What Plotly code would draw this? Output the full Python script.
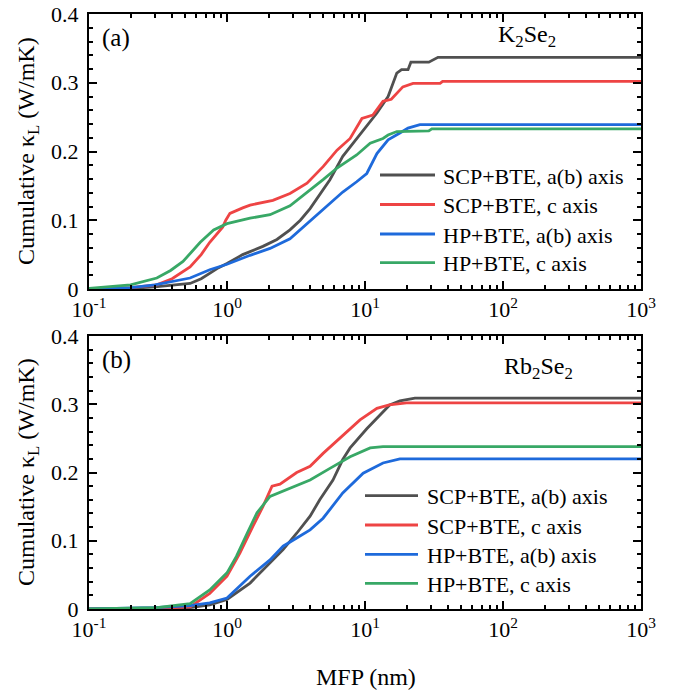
import plotly.graph_objects as go

# ---------------- data (MFP in nm, cumulative kappa_L in W/mK) ----------------
# Panel (a): K2Se2
k_scp_ab_x = [0.1, 0.2, 0.3, 0.4, 0.54, 0.65, 0.75, 0.87, 1.0, 1.3, 1.82, 2.3, 2.86, 3.4, 4.0, 4.7,
              5.57, 6.9, 8.3, 9.7, 12.2, 14.7, 17.0, 18.4, 20.5, 21.5, 29.0, 33.8, 1000]
k_scp_ab_y = [0.0, 0.001, 0.003, 0.005, 0.008, 0.015, 0.023, 0.031, 0.037, 0.050, 0.062, 0.072, 0.086,
              0.100, 0.117, 0.137, 0.159, 0.193, 0.213, 0.231, 0.256, 0.280, 0.314, 0.319, 0.319, 0.330,
              0.330, 0.337, 0.337]

k_scp_c_x = [0.1, 0.2, 0.31, 0.4, 0.54, 0.65, 0.75, 0.93, 0.98, 1.05, 1.3, 1.47, 2.15, 2.86, 3.8, 4.97,
             6.27, 7.8, 9.5, 11.4, 13.5, 15.5, 18.8, 22.3, 35.0, 36.5, 1000]
k_scp_c_y = [0.0, 0.002, 0.006, 0.015, 0.032, 0.050, 0.068, 0.090, 0.100, 0.110, 0.118, 0.122, 0.129,
             0.139, 0.154, 0.178, 0.202, 0.219, 0.248, 0.253, 0.273, 0.276, 0.294, 0.299, 0.299, 0.302,
             0.302]

k_hp_ab_x = [0.1, 0.2, 0.3, 0.54, 0.75, 1.0, 1.47, 2.05, 2.86, 3.8, 4.97, 6.9, 8.7, 10.3, 12.2, 14.7,
             17.9, 20.5, 25.0, 1000]
k_hp_ab_y = [0.0, 0.002, 0.006, 0.016, 0.028, 0.036, 0.049, 0.059, 0.073, 0.095, 0.117, 0.141, 0.156,
             0.168, 0.197, 0.217, 0.227, 0.234, 0.239, 0.239]

k_hp_c_x = [0.1, 0.2, 0.31, 0.39, 0.48, 0.64, 0.8, 1.0, 1.47, 2.05, 2.86, 3.8, 4.97, 6.27, 8.7, 10.9,
            13.5, 14.7, 17.0, 29.0, 30.5, 1000]
k_hp_c_y = [0.001, 0.006, 0.016, 0.027, 0.040, 0.068, 0.086, 0.095, 0.103, 0.108, 0.121, 0.140, 0.159,
            0.176, 0.195, 0.212, 0.219, 0.224, 0.229, 0.230, 0.233, 0.233]

# Panel (b): Rb2Se2
r_scp_ab_x = [0.1, 0.3, 0.54, 0.75, 1.0, 1.47, 2.05, 2.55, 3.2, 4.0, 4.7, 5.86, 6.9, 7.8, 10.3, 12.8,
              15.1, 17.9, 23.0, 1000]
r_scp_ab_y = [0.0, 0.001, 0.002, 0.006, 0.014, 0.038, 0.067, 0.087, 0.111, 0.136, 0.160, 0.189, 0.219,
              0.236, 0.264, 0.284, 0.299, 0.305, 0.309, 0.309]

r_scp_c_x = [0.1, 0.3, 0.54, 0.75, 1.0, 1.24, 1.54, 1.82, 2.12, 2.42, 3.2, 4.0, 4.97, 6.6, 9.2, 12.2,
             15.0, 20.0, 1000]
r_scp_c_y = [0.0, 0.001, 0.003, 0.023, 0.048, 0.082, 0.121, 0.150, 0.180, 0.183, 0.200, 0.209, 0.228,
             0.250, 0.277, 0.294, 0.299, 0.302, 0.302]

r_hp_ab_x = [0.1, 0.3, 0.54, 0.75, 1.0, 1.47, 2.05, 2.55, 3.2, 4.0, 4.97, 6.9, 9.7, 13.5, 17.9, 1000]
r_hp_ab_y = [0.0, 0.002, 0.005, 0.009, 0.016, 0.048, 0.072, 0.092, 0.104, 0.116, 0.133, 0.170, 0.199,
             0.214, 0.220, 0.220]

r_hp_c_x = [0.1, 0.2, 0.31, 0.54, 0.75, 1.0, 1.17, 1.4, 1.65, 2.05, 2.86, 4.0, 5.57, 7.8, 10.9, 13.5, 1000]
r_hp_c_y = [0.0, 0.001, 0.002, 0.008, 0.028, 0.053, 0.077, 0.111, 0.141, 0.165, 0.177, 0.189, 0.206,
            0.223, 0.236, 0.238, 0.238]

names = ["SCP+BTE, a(b) axis", "SCP+BTE, c axis", "HP+BTE, a(b) axis", "HP+BTE, c axis"]
colors = ["#505050", "#EE4444", "#1E6ADB", "#38A866"]

x_tickvals = [0.1, 1, 10, 100, 1000]
x_ticktext = ["10<sup>-1</sup>", "10<sup>0</sup>", "10<sup>1</sup>", "10<sup>2</sup>", "10<sup>3</sup>"]
y_tickvals = [0, 0.1, 0.2, 0.3, 0.4]
y_ticktext = ["0", "0.1", "0.2", "0.3", "0.4"]
x_minor = [m * 10 ** e for e in range(-1, 3) for m in range(2, 10)]

FONT = "Times New Roman, Liberation Serif, DejaVu Serif, serif"
LW = 2.8

fig = go.Figure()
top_sets = [(k_scp_ab_x, k_scp_ab_y), (k_scp_c_x, k_scp_c_y), (k_hp_ab_x, k_hp_ab_y), (k_hp_c_x, k_hp_c_y)]
bot_sets = [(r_scp_ab_x, r_scp_ab_y), (r_scp_c_x, r_scp_c_y), (r_hp_ab_x, r_hp_ab_y), (r_hp_c_x, r_hp_c_y)]

for i, (xs, ys) in enumerate(top_sets):
    fig.add_trace(go.Scatter(x=xs, y=ys, mode="lines", name=names[i], showlegend=False,
                             line=dict(color=colors[i], width=LW), xaxis="x", yaxis="y"))
for i, (xs, ys) in enumerate(bot_sets):
    fig.add_trace(go.Scatter(x=xs, y=ys, mode="lines", name=names[i], showlegend=False,
                             line=dict(color=colors[i], width=LW), xaxis="x2", yaxis="y2"))

def xaxis(anchor):
    return dict(type="log", range=[-1, 3], tickvals=x_tickvals, ticktext=x_ticktext,
                ticks="inside", ticklen=8, tickwidth=1.5, tickcolor="black",
                showline=True, linecolor="black", linewidth=2, mirror="allticks",
                minor=dict(tickvals=x_minor, ticks="inside", ticklen=4, tickwidth=1.5, tickcolor="black"),
                showgrid=False, zeroline=False, anchor=anchor, automargin=False,
                tickfont=dict(family=FONT, size=22, color="black"))

def yaxis(domain, anchor):
    return dict(range=[0, 0.4], domain=domain, tickvals=y_tickvals, ticktext=y_ticktext,
                ticks="inside", ticklen=8, tickwidth=1.5, tickcolor="black",
                showline=True, linecolor="black", linewidth=2, mirror="allticks",
                minor=dict(dtick=0.02, ticks="inside", ticklen=4, tickwidth=1.5, tickcolor="black"),
                showgrid=False, zeroline=False, anchor=anchor, automargin=False,
                ticklabelstandoff=4,
                tickfont=dict(family=FONT, size=22, color="black"))

def py(p):
    return (609 - p) / 595

def px(p):
    return (p - 89) / 552

shapes = []
annotations = []

# manual legends (line sample + label) for each panel
leg_top_rows = [175, 204.5, 234, 262.7]
leg_bot_rows = [495.7, 525, 554.3, 583.3]
for rows, x0, x1, xt in [(leg_top_rows, 380, 435, 441), (leg_bot_rows, 365, 418, 425)]:
    for i, yr in enumerate(rows):
        shapes.append(dict(type="line", xref="paper", yref="paper", x0=px(x0), x1=px(x1),
                           y0=py(yr), y1=py(yr), line=dict(color=colors[i], width=LW)))
        annotations.append(dict(text=names[i], x=px(xt), y=py(yr + 1), xref="paper", yref="paper",
                                xanchor="left", yanchor="middle", showarrow=False,
                                font=dict(family=FONT, size=22, color="black")))

ytitle = "Cumulative κ<sub>L</sub> (W/mK)"
annotations += [
    dict(text="(a)", x=px(100), y=py(38), xref="paper", yref="paper", xanchor="left",
         yanchor="middle", showarrow=False, font=dict(family=FONT, size=25, color="black")),
    dict(text="(b)", x=px(100), y=py(360), xref="paper", yref="paper", xanchor="left",
         yanchor="middle", showarrow=False, font=dict(family=FONT, size=25, color="black")),
    dict(text="K<sub>2</sub>Se<sub>2</sub>", x=px(527), y=py(36), xref="paper", yref="paper",
         xanchor="center", yanchor="middle", showarrow=False,
         font=dict(family=FONT, size=24, color="black")),
    dict(text="Rb<sub>2</sub>Se<sub>2</sub>", x=px(538), y=py(368), xref="paper", yref="paper",
         xanchor="center", yanchor="middle", showarrow=False,
         font=dict(family=FONT, size=24, color="black")),
    dict(text=ytitle, x=px(28), y=py(151), xref="paper", yref="paper", textangle=-90,
         xanchor="center", yanchor="middle", showarrow=False,
         font=dict(family=FONT, size=24, color="black")),
    dict(text=ytitle, x=px(28), y=py(472), xref="paper", yref="paper", textangle=-90,
         xanchor="center", yanchor="middle", showarrow=False,
         font=dict(family=FONT, size=24, color="black")),
    dict(text="MFP (nm)", x=px(366), y=py(677), xref="paper", yref="paper",
         xanchor="center", yanchor="middle", showarrow=False,
         font=dict(family=FONT, size=24, color="black")),
]

fig.update_layout(
    width=674, height=690,
    margin=dict(l=89, r=33, t=14, b=81),
    paper_bgcolor="white", plot_bgcolor="white",
    font=dict(family=FONT, color="black"),
    showlegend=False,
    xaxis=xaxis("y"),
    yaxis=yaxis([py(289), 1.0], "x"),
    xaxis2=xaxis("y2"),
    yaxis2=yaxis([0.0, py(336)], "x2"),
    shapes=shapes,
    annotations=annotations,
)

fig.write_html("out.html")
